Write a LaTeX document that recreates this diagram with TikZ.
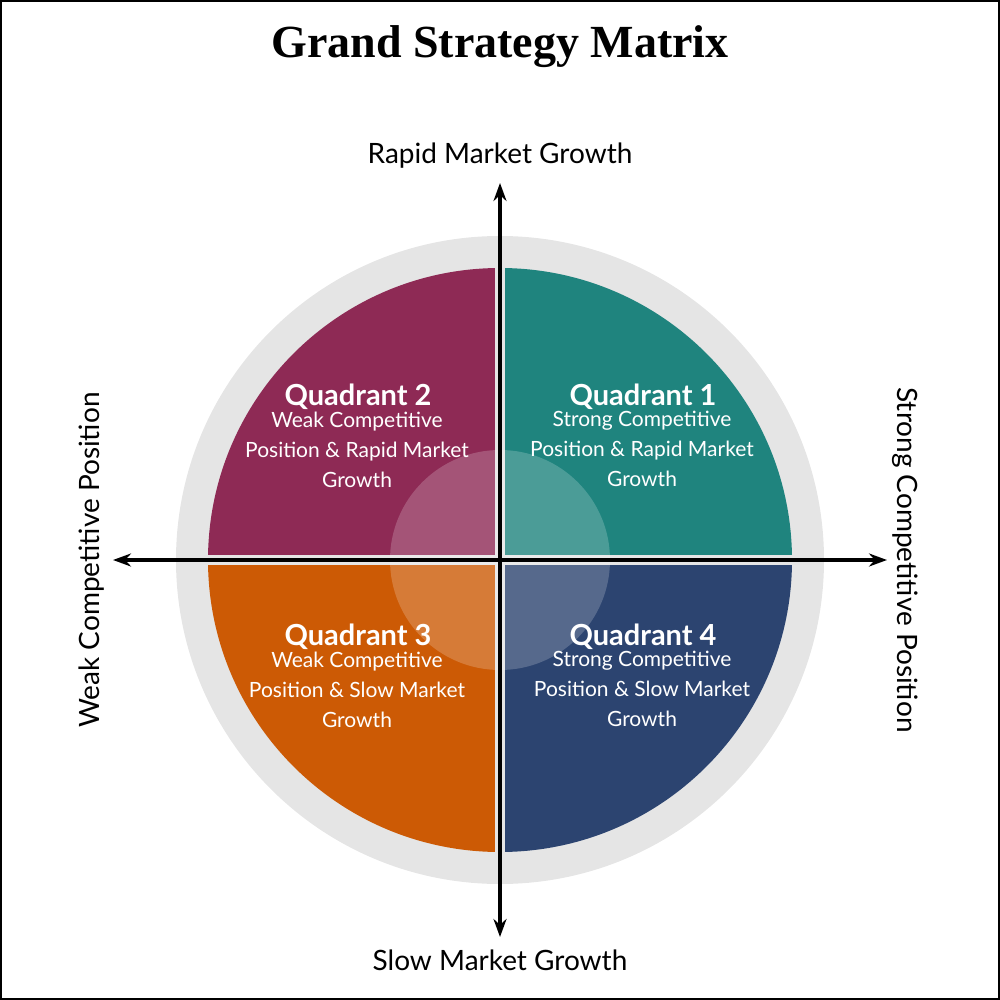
\documentclass[tikz,border=0pt]{standalone}
\usepackage{fontspec}
\setmainfont{Lato}
\newfontfamily\titlefont{Liberation Serif}
\usetikzlibrary{arrows.meta}
\definecolor{qa}{HTML}{1F847E}
\definecolor{qb}{HTML}{8E2A55}
\definecolor{qc}{HTML}{CC5A05}
\definecolor{qd}{HTML}{2C4470}
\definecolor{ring}{HTML}{E5E5E5}
\tikzset{
 qhead/.style={text=white,font=\fontsize{29}{30}\selectfont\bfseries},
 qbody/.style={text=white,align=center,font=\fontsize{21}{30}\selectfont},
 axlab/.style={font=\fontsize{28}{30}\selectfont},
 axis/.style={line width=3.2pt,-{Stealth[length=18pt,width=13pt]}}
}
\begin{document}
\begin{tikzpicture}[x=1pt,y=-1pt]
\useasboundingbox (0,0) rectangle (1000,1000);
\draw[line width=1.5pt] (1,1) rectangle (999,999);
\node[font=\titlefont\fontsize{46}{48}\selectfont\bfseries] (title) at (500,47) {Grand Strategy Matrix};
\fill[ring] (500,560) circle (324);
\begin{scope}
\clip (500,560) circle (292);
\fill[qb] (100,100) rectangle (495,555);
\fill[qa] (505,100) rectangle (900,555);
\fill[qc] (100,565) rectangle (495,900);
\fill[qd] (505,565) rectangle (900,900);
\end{scope}
\fill[white,opacity=0.2] (500,560) circle (110);
\coordinate (c) at (500,560);
\coordinate (top) at (500,183);
\coordinate (bot) at (500,937);
\coordinate (lft) at (113,560);
\coordinate (rgt) at (887,560);
\draw[axis] (c) -- (top);
\draw[axis] (c) -- (bot);
\draw[axis] (c) -- (lft);
\draw[axis] (c) -- (rgt);
\node[axlab] (ltop) at (500,156) {Rapid Market Growth};
\node[axlab] (lbot) at (500,960) {Slow Market Growth};
\node[axlab,rotate=90] (lleft) at (92,560) {Weak Competitive Position};
\node[axlab,rotate=-90] (lright) at (905,560) {Strong Competitive Position};
\node[qhead] (h2) at (358,397) {Quadrant 2};
\node[qbody,anchor=north] (b2) at (357,408) {Weak Competitive\\Position \& Rapid Market\\Growth};
\node[qhead] (h1) at (643,397) {Quadrant 1};
\node[qbody,anchor=north] (b1) at (642,408) {Strong Competitive\\Position \& Rapid Market\\Growth};
\node[qhead] (h3) at (358,637) {Quadrant 3};
\node[qbody,anchor=north] (b3) at (357,648) {Weak Competitive\\Position \& Slow Market\\Growth};
\node[qhead] (h4) at (643,637) {Quadrant 4};
\node[qbody,anchor=north] (b4) at (642,648) {Strong Competitive\\Position \& Slow Market\\Growth};
\end{tikzpicture}
\end{document}
